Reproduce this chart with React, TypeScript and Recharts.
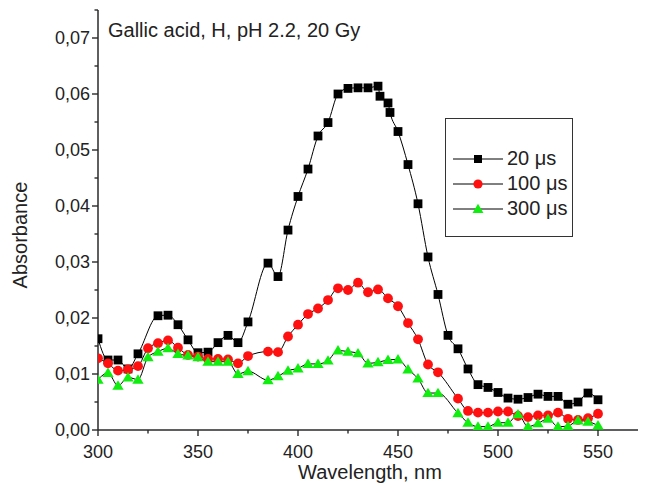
import React from 'react';
import { LineChart, Line, XAxis, YAxis, Legend } from 'recharts';

// Wavelength (nm)
const wavelengths = [
  300, 305, 310, 315, 320, 325, 330, 335, 340, 345, 350, 355, 360, 365, 370, 375, 380, 385, 390, 395,
  400, 405, 410, 415, 420, 425, 430, 435, 440, 441, 445, 446, 450, 455, 460, 465, 470, 475, 480, 485,
  490, 495, 500, 505, 510, 515, 520, 525, 530, 535, 540, 545, 550,
];

// Absorbance, 20 µs
const abs20us = [
  0.0163, 0.0125, 0.0125, 0.0109, 0.0136, null, 0.0204, 0.0205, 0.0188, 0.0161, 0.0138, 0.0139, 0.0156, 0.0169, 0.0156, 0.0193, null, 0.0298, 0.0274, 0.0357,
  0.0417, 0.0466, 0.0525, 0.0549, 0.0600, 0.0610, 0.0611, 0.0611, 0.0614, 0.0596, 0.0584, 0.0567, 0.0533, 0.0474, 0.0404, 0.0309, 0.0242, 0.0169, 0.0145, 0.0109,
  0.0081, 0.0076, 0.0067, 0.0057, 0.0055, 0.0058, 0.0064, 0.0060, 0.0060, 0.0046, 0.0050, 0.0066, 0.0054,
];

// Absorbance, 100 µs
const abs100us = [
  0.0128, 0.0119, 0.0106, 0.0108, 0.0114, 0.0146, 0.0155, 0.0160, 0.0147, 0.0134, 0.0131, 0.0127, 0.0127, 0.0126, 0.0119, 0.0132, null, 0.0140, 0.0139, 0.0167,
  0.0188, 0.0207, 0.0217, 0.0232, 0.0253, 0.0250, 0.0263, 0.0246, 0.0251, null, 0.0235, null, 0.0221, 0.0191, 0.0162, 0.0117, 0.0103, null, 0.0056, 0.0034,
  0.0031, 0.0031, 0.0033, 0.0033, 0.0025, 0.0023, 0.0026, 0.0026, 0.0031, 0.0020, 0.0018, 0.0021, 0.0029,
];

// Absorbance, 300 µs
const abs300us = [
  0.0090, 0.0102, 0.0079, 0.0094, 0.0090, 0.0130, 0.0140, 0.0146, 0.0136, 0.0133, 0.0130, 0.0122, 0.0122, 0.0122, 0.0100, 0.0105, null, 0.0089, 0.0096, 0.0106,
  0.0110, 0.0118, 0.0118, 0.0124, 0.0142, 0.0140, 0.0137, 0.0119, 0.0121, null, 0.0125, null, 0.0126, 0.0108, 0.0092, 0.0066, 0.0066, null, 0.0030, 0.0013,
  0.0006, 0.0006, 0.0013, 0.0013, 0.0028, 0.0006, 0.0012, 0.0020, 0.0006, 0.0007, 0.0017, 0.0015, 0.0008,
];

const seriesNames = ['20 \u03BCs', '100 \u03BCs', '300 \u03BCs'];
const xTicks = [300, 325, 350, 375, 400, 425, 450, 475, 500, 525, 550];
const yTicks = [0, 0.005, 0.01, 0.015, 0.02, 0.025, 0.03, 0.035, 0.04, 0.045, 0.05, 0.055, 0.06, 0.065, 0.07, 0.075];
const titleText = 'Gallic acid, H, pH 2.2, 20 Gy';
const xLabel = 'Wavelength, nm';
const yLabel = 'Absorbance';

const data = wavelengths.map((nm, i) => ({
  nm,
  s20: abs20us[i],
  s100: abs100us[i],
  s300: abs300us[i],
}));

const FONT = 'Arial, "Liberation Sans", sans-serif';
const AXIS_COLOR = '#2a2a2a';
const TS = 6;
const TM = 3;
const RED = '#ff1010';
const GREEN = '#10ee10';

const XTick = (props: any) => {
  const { x, y, payload } = props;
  const axisY = y - TS - TM;
  const v = payload.value;
  const major = v % 50 === 0;
  return (
    <g>
      <line x1={x} x2={x} y1={axisY} y2={axisY + (major ? 6 : 3.5)} stroke={AXIS_COLOR} strokeWidth={1.4} />
      {major && (
        <text x={x} y={axisY + 15} dy="0.72em" textAnchor="middle" fontSize={18} fontFamily={FONT} fill="#222">
          {v}
        </text>
      )}
    </g>
  );
};

const YTick = (props: any) => {
  const { x, y, payload } = props;
  const axisX = x + TS + TM;
  const v = payload.value;
  const major = Math.round(v * 1000) % 10 === 0;
  return (
    <g>
      <line x1={axisX} x2={axisX - (major ? 6 : 3.5)} y1={y} y2={y} stroke={AXIS_COLOR} strokeWidth={1.4} />
      {major && (
        <text x={axisX - 8} y={y} dy="0.36em" textAnchor="end" fontSize={18} fontFamily={FONT} fill="#222">
          {v.toFixed(2).replace('.', ',')}
        </text>
      )}
    </g>
  );
};

const squareDot = (props: any) => {
  const { cx, cy, value, index } = props;
  if (value == null || cy == null) return <g key={`sq-${index}`} />;
  return <rect key={`sq-${index}`} x={cx - 4.4} y={cy - 4.4} width={8.8} height={8.8} fill="#000" />;
};
const circleDot = (props: any) => {
  const { cx, cy, value, index } = props;
  if (value == null || cy == null) return <g key={`ci-${index}`} />;
  return <circle key={`ci-${index}`} cx={cx} cy={cy} r={4.9} fill={RED} />;
};
const triDot = (props: any) => {
  const { cx, cy, value, index } = props;
  if (value == null || cy == null) return <g key={`tr-${index}`} />;
  const s = 5.4;
  return (
    <polygon
      key={`tr-${index}`}
      points={`${cx},${cy - s} ${cx - s * 1.05},${cy + s * 0.75} ${cx + s * 1.05},${cy + s * 0.75}`}
      fill={GREEN}
    />
  );
};

const LegendMarker = ({ kind }: { kind: number }) => (
  <svg width={50} height={14} style={{ display: 'block' }}>
    <line x1={0} x2={50} y1={7} y2={7} stroke="#000" strokeWidth={1} />
    {kind === 0 && <rect x={21} y={3} width={8} height={8} fill="#000" />}
    {kind === 1 && <circle cx={25} cy={7} r={4.6} fill={RED} />}
    {kind === 2 && <polygon points="25,1.8 19.5,10.9 30.5,10.9" fill={GREEN} />}
  </svg>
);

const LegendBox = () => (
  <div
    style={{
      width: 128,
      height: 119,
      border: '1.3px solid #333',
      boxSizing: 'border-box',
      background: '#fff',
      paddingTop: 27,
      fontFamily: FONT,
    }}
  >
    {seriesNames.map((name, i) => (
      <div key={name} style={{ display: 'flex', alignItems: 'center', height: 25, paddingLeft: 7 }}>
        <LegendMarker kind={i} />
        <span style={{ fontSize: 20, marginLeft: 4, color: '#222', lineHeight: '25px' }}>{name}</span>
      </div>
    ))}
  </div>
);

export default function App() {
  return (
    <div style={{ position: 'absolute', left: 0, top: 0, width: 647, height: 493, background: '#fff' }}>
      <LineChart width={647} height={493} data={data} margin={{ top: 10, right: 9, bottom: 0, left: 0 }}>
        <XAxis
          dataKey="nm"
          type="number"
          domain={[300, 570]}
          ticks={xTicks}
          interval={0}
          height={63}
          tickLine={false}
          tickSize={TS}
          tickMargin={TM}
          tick={XTick}
          axisLine={{ stroke: AXIS_COLOR, strokeWidth: 1.5 }}
          allowDataOverflow
        />
        <YAxis
          type="number"
          domain={[0, 0.075]}
          ticks={yTicks}
          interval={0}
          width={98}
          tickLine={false}
          tickSize={TS}
          tickMargin={TM}
          tick={YTick}
          axisLine={{ stroke: AXIS_COLOR, strokeWidth: 1.5 }}
          allowDataOverflow
        />
        <Legend
          layout="horizontal"
          verticalAlign="middle"
          align="center"
          content={() => <LegendBox />}
          wrapperStyle={{ position: 'absolute', left: 445, top: 118, width: 128, height: 119 }}
        />
        <Line
          type="monotone"
          dataKey="s20"
          name={seriesNames[0]}
          stroke="#000"
          strokeWidth={1}
          dot={squareDot}
          activeDot={false}
          connectNulls
          isAnimationActive={false}
        />
        <Line
          type="monotone"
          dataKey="s100"
          name={seriesNames[1]}
          stroke="#000"
          strokeWidth={1}
          dot={circleDot}
          activeDot={false}
          connectNulls
          isAnimationActive={false}
        />
        <Line
          type="monotone"
          dataKey="s300"
          name={seriesNames[2]}
          stroke="#000"
          strokeWidth={1}
          dot={triDot}
          activeDot={false}
          connectNulls
          isAnimationActive={false}
        />
        <text x={108} y={37} fontSize={20} fontFamily={FONT} fill="#222">
          {titleText}
        </text>
        <text x={370} y={479} textAnchor="middle" fontSize={20} fontFamily={FONT} fill="#222">
          {xLabel}
        </text>
        <text
          x={27}
          y={235}
          textAnchor="middle"
          fontSize={20}
          fontFamily={FONT}
          fill="#222"
          transform="rotate(-90 27 235)"
        >
          {yLabel}
        </text>
      </LineChart>
    </div>
  );
}
